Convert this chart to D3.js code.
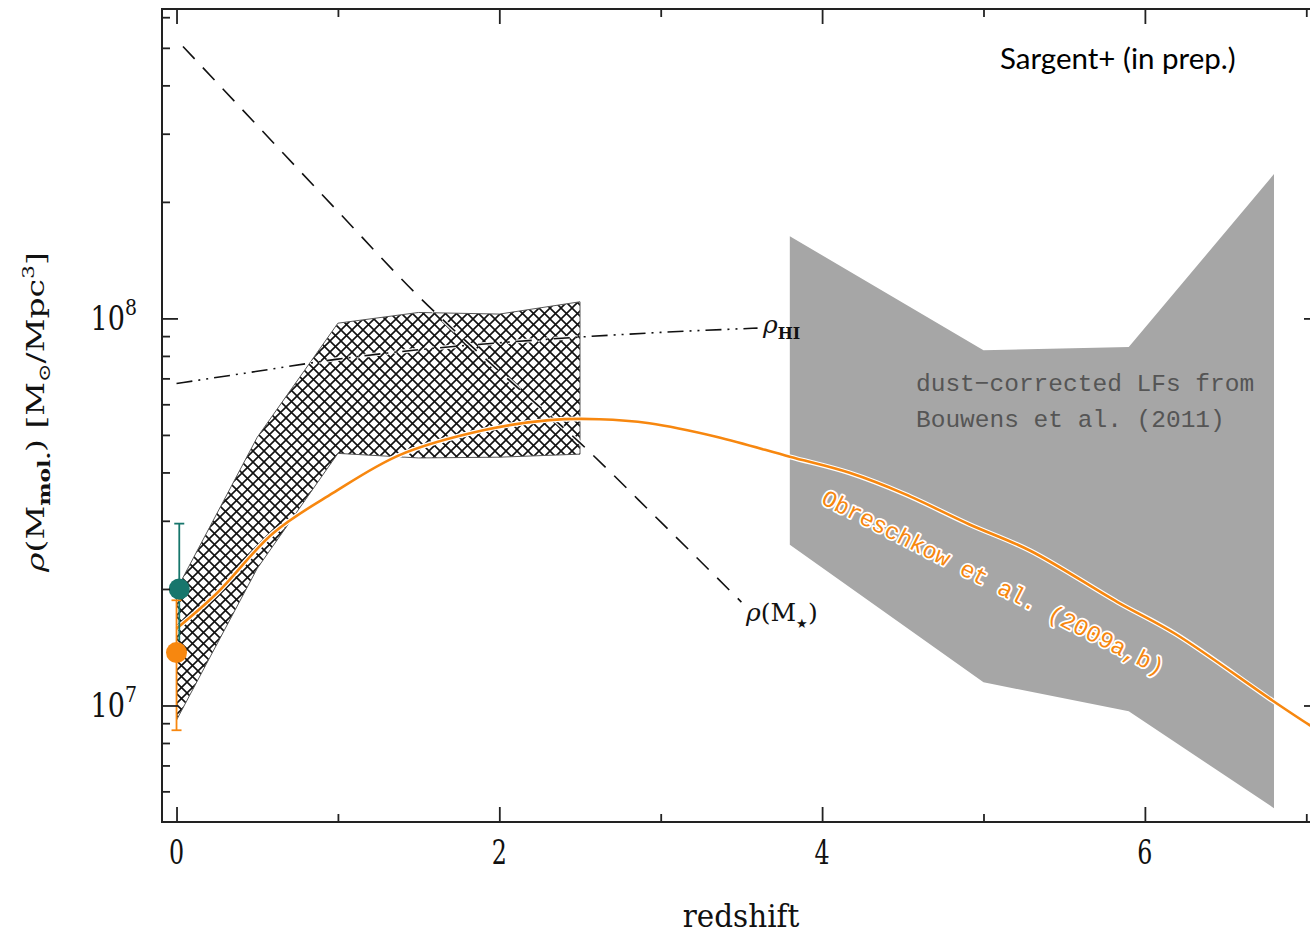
<!DOCTYPE html>
<html>
<head>
<meta charset="utf-8">
<script src="https://cdn.jsdelivr.net/npm/d3@7"></script>
<style>
  body { margin: 0; background: #fff; }
  svg { display: block; }
</style>
</head>
<body>
<script>
// Cosmic molecular gas mass density versus redshift

// hatched band (scaling-relation estimate)
const hatchZ     = [0, 0.5, 1.0, 1.5, 2.0, 2.5];
const hatchUpper = [1.99e7, 4.93e7, 9.72e7, 1.036e8, 1.026e8, 1.104e8];
const hatchLower = [9.17e6, 2.26e7, 4.48e7, 4.36e7, 4.38e7, 4.46e7];

// grey band: dust-corrected LFs from Bouwens et al. (2011)
const bouwensZ     = [3.8, 5.0, 5.9, 6.8];
const bouwensUpper = [1.63e8, 8.28e7, 8.43e7, 2.36e8];
const bouwensLower = [2.60e7, 1.148e7, 9.66e6, 5.43e6];

// stellar mass density rho(M*)
const stellarZ   = [0.04, 0.5, 1.0, 1.5, 2.0, 2.5, 3.0, 3.5];
const stellarRho = [5.04e8, 3.15e8, 1.89e8, 1.14e8, 7.3e7, 4.77e7, 2.98e7, 1.85e7];

// atomic gas density rho_HI
const hiZ   = [0, 0.5, 1.0, 1.5, 2.0, 2.5, 3.0, 3.6];
const hiRho = [6.79e7, 7.3e7, 7.85e7, 8.3e7, 8.65e7, 8.95e7, 9.2e7, 9.44e7];

// Obreschkow et al. (2009a,b) model
const obrZ   = [0, 0.25, 0.6, 0.97, 1.385, 1.9, 2.31, 2.62, 2.93, 3.35, 3.8, 4.17, 4.51, 4.91, 5.29, 5.83, 6.19, 6.79, 7.02, 7.1];
const obrRho = [1.58e7, 1.95e7, 2.79e7, 3.54e7, 4.44e7, 5.14e7, 5.46e7, 5.49e7, 5.36e7, 4.94e7, 4.39e7, 3.99e7, 3.52e7, 2.94e7, 2.51e7, 1.85e7, 1.53e7, 1.03e7, 8.9e6, 8.5e6];

// local measurements with error bars
const localZ    = [0.017, 0];
const localRho  = [2.0e7, 1.37e7];
const localLow  = [1.47e7, 8.63e6];
const localHigh = [2.95e7, 1.87e7];
const localCap  = [false, true];
const localCol  = ["#17766c", "#f7870f"];

// axis ticks
const xMajor = [0, 2, 4, 6];
const xMinor = [1, 3, 5, 7];
const yMajor = [1e7, 1e8];
const yMinor = [6e6, 7e6, 8e6, 9e6, 2e7, 3e7, 4e7, 5e7, 6e7, 7e7, 8e7, 9e7, 2e8, 3e8, 4e8, 5e8, 6e8];
const yMajorExp = ["7", "8"];

const W = 1310, H = 935;
const L = 162, R = 1320, T = 9, B = 822;
const ORANGE = "#f7870f";

const svg = d3.select("body").append("svg").attr("width", W).attr("height", H)
  .attr("font-family", "DejaVu Serif");

const x = d3.scaleLinear().domain([-0.09, 7.085]).range([L, R]);
const y = d3.scaleLog().domain([5e6, 6.3e8]).range([B, T]);

const defs = svg.append("defs");
defs.append("clipPath").attr("id", "plotclip")
  .append("rect").attr("x", L).attr("y", T).attr("width", R - L).attr("height", B - T);

const pat = defs.append("pattern").attr("id", "xhatch")
  .attr("patternUnits", "userSpaceOnUse").attr("width", 11).attr("height", 11);
pat.append("rect").attr("width", 11).attr("height", 11).attr("fill", "#fff");
pat.append("path").attr("d", "M-1,-1L12,12M12,-1L-1,12")
  .attr("stroke", "#111").attr("stroke-width", 1.6).attr("fill", "none");

const plot = svg.append("g").attr("clip-path", "url(#plotclip)");

// grey Bouwens band
const bouwens = bouwensZ.map((z, i) => ({ z, lo: bouwensLower[i], hi: bouwensUpper[i] }));
plot.append("path").datum(bouwens)
  .attr("d", d3.area().x(d => x(d.z)).y0(d => y(d.lo)).y1(d => y(d.hi)))
  .attr("fill", "#a6a6a6");

// hatched band
const hatch = hatchZ.map((z, i) => ({ z, lo: hatchLower[i], hi: hatchUpper[i] }));
plot.append("path").datum(hatch)
  .attr("d", d3.area().x(d => x(d.z)).y0(d => y(d.lo)).y1(d => y(d.hi)))
  .attr("fill", "url(#xhatch)").attr("stroke", "#555").attr("stroke-width", 1);

// rho_HI (dash-dot-dot) and rho(M*) (dashed)
const lineGen = d3.line().x(d => x(d[0])).y(d => y(d[1])).curve(d3.curveMonotoneX);
const hiPts = hiZ.map((z, i) => [z, hiRho[i]]);
const stPts = stellarZ.map((z, i) => [z, stellarRho[i]]);

function haloLine(pts, dash) {
  plot.append("path").attr("d", lineGen(pts)).attr("fill", "none")
    .attr("stroke", "#fff").attr("stroke-width", 4).attr("stroke-dasharray", dash).attr("opacity", 0.9);
  plot.append("path").attr("d", lineGen(pts)).attr("fill", "none")
    .attr("stroke", "#111").attr("stroke-width", 1.6).attr("stroke-dasharray", dash);
}
haloLine(hiPts, "16,6,2,6,2,6");
haloLine(stPts, "17,12");

// Obreschkow model curve
const obrPts = obrZ.map((z, i) => [z, obrRho[i]]);
const smooth = d3.line().x(d => x(d[0])).y(d => y(d[1])).curve(d3.curveCatmullRom.alpha(0.5));
plot.append("path").attr("d", smooth(obrPts)).attr("fill", "none")
  .attr("stroke", "#fff").attr("stroke-width", 5);
plot.append("path").attr("d", smooth(obrPts)).attr("fill", "none")
  .attr("stroke", ORANGE).attr("stroke-width", 2.6);

// local points with error bars
localZ.forEach((z, i) => {
  const g = plot.append("g").attr("stroke", localCol[i]).attr("stroke-width", 1.8);
  g.append("line").attr("x1", x(z)).attr("x2", x(z)).attr("y1", y(localLow[i])).attr("y2", y(localHigh[i]));
  g.append("line").attr("x1", x(z) - 5).attr("x2", x(z) + 5).attr("y1", y(localHigh[i])).attr("y2", y(localHigh[i]));
  if (localCap[i]) {
    g.append("line").attr("x1", x(z) - 5).attr("x2", x(z) + 5).attr("y1", y(localLow[i])).attr("y2", y(localLow[i]));
  }
});
localZ.forEach((z, i) => {
  plot.append("circle").attr("cx", x(z)).attr("cy", y(localRho[i])).attr("r", 10.5)
    .attr("fill", localCol[i]);
});

// in-plot labels
const hiLab = svg.append("text").attr("x", 763).attr("y", 333).attr("font-size", 25).attr("fill", "#111");
hiLab.append("tspan").attr("font-style", "italic").text("ρ");
hiLab.append("tspan").attr("font-size", 16).attr("font-weight", "bold").attr("dy", 6).text("HI");

const msLab = svg.append("text").attr("x", 746).attr("y", 621).attr("font-size", 25).attr("fill", "#111");
msLab.append("tspan").attr("font-style", "italic").text("ρ");
msLab.append("tspan").text("(M");
msLab.append("tspan").attr("font-size", 13).attr("dy", 7).text("★");
msLab.append("tspan").attr("dy", -7).text(")");

svg.append("g").attr("font-family", "Liberation Mono").attr("font-size", 24.5).attr("fill", "#555")
  .selectAll("text").data(["dust−corrected LFs from", "Bouwens et al. (2011)"]).join("text")
  .attr("x", 916).attr("y", (d, i) => 391 + i * 36).text(d => d);

svg.append("text")
  .attr("transform", "translate(820,503) rotate(27)")
  .attr("font-family", "Liberation Mono").attr("font-size", 23.5)
  .attr("fill", ORANGE).attr("stroke", "#fff").attr("stroke-width", 3.5)
  .attr("paint-order", "stroke").attr("stroke-linejoin", "round")
  .text("Obreschkow et al. (2009a,b)");

svg.append("text").attr("x", 1000).attr("y", 69)
  .attr("font-family", "Lato").attr("font-size", 29.5).attr("fill", "#000")
  .text("Sargent+ (in prep.)");

// frame and ticks
const axisG = svg.append("g");
function addAxis(gen, tx, ty, vals, size) {
  axisG.append("g").attr("transform", `translate(${tx},${ty})`)
    .call(gen.tickValues(vals).tickSize(size).tickFormat(""))
    .call(g => g.select(".domain").remove())
    .call(g => g.selectAll(".tick line").attr("stroke", "#222").attr("stroke-width", 1.8));
}
addAxis(d3.axisRight(y), L, 0, yMajor, 16);
addAxis(d3.axisRight(y), L, 0, yMinor, 8);
addAxis(d3.axisLeft(y), R, 0, yMajor, 16);
addAxis(d3.axisLeft(y), R, 0, yMinor, 8);
addAxis(d3.axisTop(x), 0, B, xMajor, 15);
addAxis(d3.axisTop(x), 0, B, xMinor, 8);
addAxis(d3.axisBottom(x), 0, T, xMajor, 15);
addAxis(d3.axisBottom(x), 0, T, xMinor, 8);

svg.append("rect").attr("x", L).attr("y", T).attr("width", R - L).attr("height", B - T)
  .attr("fill", "none").attr("stroke", "#222").attr("stroke-width", 2);

// tick labels
svg.append("g").selectAll("text").data(xMajor).join("text")
  .attr("transform", d => `translate(${x(d)},864) scale(0.72,1)`)
  .attr("text-anchor", "middle").attr("font-size", 33).attr("fill", "#111")
  .text(d => d);

yMajor.forEach((v, i) => {
  const t = svg.append("text")
    .attr("transform", `translate(137,${y(v) + 12}) scale(0.82,1)`)
    .attr("text-anchor", "end").attr("font-size", 33).attr("fill", "#111");
  t.append("tspan").text("10");
  t.append("tspan").attr("font-size", 23).attr("dy", -15).text(yMajorExp[i]);
});

// axis titles
svg.append("text").attr("transform", "translate(741,927) scale(0.95,1)")
  .attr("text-anchor", "middle").attr("font-size", 31).attr("fill", "#111")
  .text("redshift");

const yt = svg.append("text")
  .attr("transform", "translate(44,412) rotate(-90) scale(1,0.75)")
  .attr("text-anchor", "middle").attr("font-size", 33).attr("fill", "#111");
yt.append("tspan").attr("font-style", "italic").text("ρ");
yt.append("tspan").text("(M");
yt.append("tspan").attr("font-size", 22).attr("font-weight", "bold").attr("dy", 8).text("mol.");
yt.append("tspan").attr("dy", -8).text(")  [M");
yt.append("tspan").attr("font-size", 22).attr("dy", 8).text("⊙");
yt.append("tspan").attr("dy", -8).text("/Mpc");
yt.append("tspan").attr("font-size", 22).attr("dy", -14).text("3");
yt.append("tspan").attr("dy", 14).text("]");
</script>
</body>
</html>
